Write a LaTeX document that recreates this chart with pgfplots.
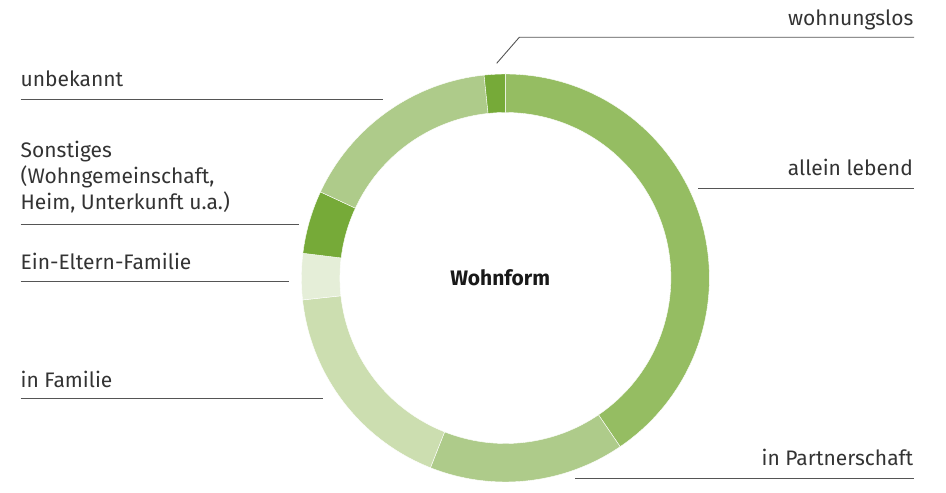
\documentclass[border=0pt]{standalone}
\usepackage{fontspec}
\setmainfont{Fira Sans}
\usepackage{pgfplots}
\usepackage{pgfplotstable}
\pgfplotsset{compat=1.18}

\definecolor{seg0}{HTML}{95BD62}
\definecolor{seg1}{HTML}{AECB8A}
\definecolor{seg2}{HTML}{CCDEB0}
\definecolor{seg3}{HTML}{E5EED8}
\definecolor{seg4}{HTML}{76AA38}
\definecolor{seg5}{HTML}{AECB8A}
\definecolor{seg6}{HTML}{76AA38}
\definecolor{txt}{HTML}{333333}
\definecolor{ln}{HTML}{555555}

% Wohnform shares (percent), clockwise from 12 o'clock
\pgfplotstableread{
label value
allein_lebend 40.5
in_Partnerschaft 15.5
in_Familie 17.3
Ein-Eltern-Familie 3.65
Sonstiges 5.0
unbekannt 16.4
wohnungslos 1.67
}\wohnform

% cumulative sums
\xdef\cum{0}
\pgfplotstableforeachcolumnelement{value}\of\wohnform\as\v{%
  \pgfmathsetmacro\tmpA{\cum}%
  \pgfmathsetmacro\tmpB{\cum+\v}%
  \expandafter\xdef\csname segA\pgfplotstablerow\endcsname{\tmpA}%
  \expandafter\xdef\csname segB\pgfplotstablerow\endcsname{\tmpB}%
  \xdef\cum{\tmpB}%
}
% angles (TikZ convention, counter-clockwise from east)
\foreach \i in {0,...,6}{%
  \pgfmathsetmacro\tmpS{90-\csname segA\i\endcsname/\cum*360}%
  \pgfmathsetmacro\tmpE{90-\csname segB\i\endcsname/\cum*360}%
  \expandafter\xdef\csname angS\i\endcsname{\tmpS}%
  \expandafter\xdef\csname angE\i\endcsname{\tmpE}%
}

\def\cx{505.4}
\def\cy{205}
\def\Ro{204}
\def\Ri{165.5}
\def\Rw{38.5}

\begin{document}
\begin{tikzpicture}
\begin{axis}[
  x=1pt, y=1pt,
  xmin=0, xmax=946, ymin=0, ymax=483,
  hide axis, clip=false,
  anchor=origin, at={(0,0)},
]
\path (axis cs:0,0) rectangle (axis cs:946,483);

\pgfplotsinvokeforeach{0,...,6}{
  \fill[seg#1, draw=white, line width=0.4pt]
    (axis cs:\cx,\cy) ++(\csname angS#1\endcsname:\Ro)
    arc[start angle=\csname angS#1\endcsname, end angle=\csname angE#1\endcsname, radius=\Ro]
    -- ++(\csname angE#1\endcsname+180:\Rw)
    arc[start angle=\csname angE#1\endcsname, end angle=\csname angS#1\endcsname, radius=\Ri]
    -- cycle;
}

\node[font=\bfseries\fontsize{21}{26}\selectfont, text=black!90, anchor=base, inner sep=0pt]
  at (axis cs:500.2,197) {Wohnform};

% leader lines
\draw[ln, line width=0.9pt] (axis cs:496.7,419.7) -- (axis cs:519.3,445.7) -- (axis cs:914,445.7);
\draw[ln, line width=0.9pt] (axis cs:698.3,294.7) -- (axis cs:913.5,294.7);
\draw[ln, line width=0.9pt] (axis cs:575,4.3) -- (axis cs:914,4.3);
\draw[ln, line width=0.9pt] (axis cs:20.7,384) -- (axis cs:383,384);
\draw[ln, line width=0.9pt] (axis cs:20.7,259) -- (axis cs:299,259);
\draw[ln, line width=0.9pt] (axis cs:20.7,201.8) -- (axis cs:289.3,201.8);
\draw[ln, line width=0.9pt] (axis cs:20.7,84.2) -- (axis cs:322.7,84.2);

% labels
\tikzset{lab/.style={font=\fontsize{21}{26}\selectfont, text=txt, inner sep=0pt}}
\node[lab, anchor=base east] at (axis cs:913.5,457) {wohnungslos};
\node[lab, anchor=base east] at (axis cs:913,307.3) {allein lebend};
\node[lab, anchor=base east] at (axis cs:913.5,17) {in Partnerschaft};
\node[lab, anchor=base west] at (axis cs:20.5,396.3) {unbekannt};
\node[lab, anchor=base west] at (axis cs:20.5,325) {Sonstiges};
\node[lab, anchor=base west] at (axis cs:20.5,299) {(Wohngemeinschaft,};
\node[lab, anchor=base west] at (axis cs:20.5,273) {Heim, Unterkunft u.a.)};
\node[lab, anchor=base west] at (axis cs:20.5,213.7) {Ein-Eltern-Familie};
\node[lab, anchor=base west] at (axis cs:20.5,95.7) {in Familie};
\end{axis}
\end{tikzpicture}
\end{document}
